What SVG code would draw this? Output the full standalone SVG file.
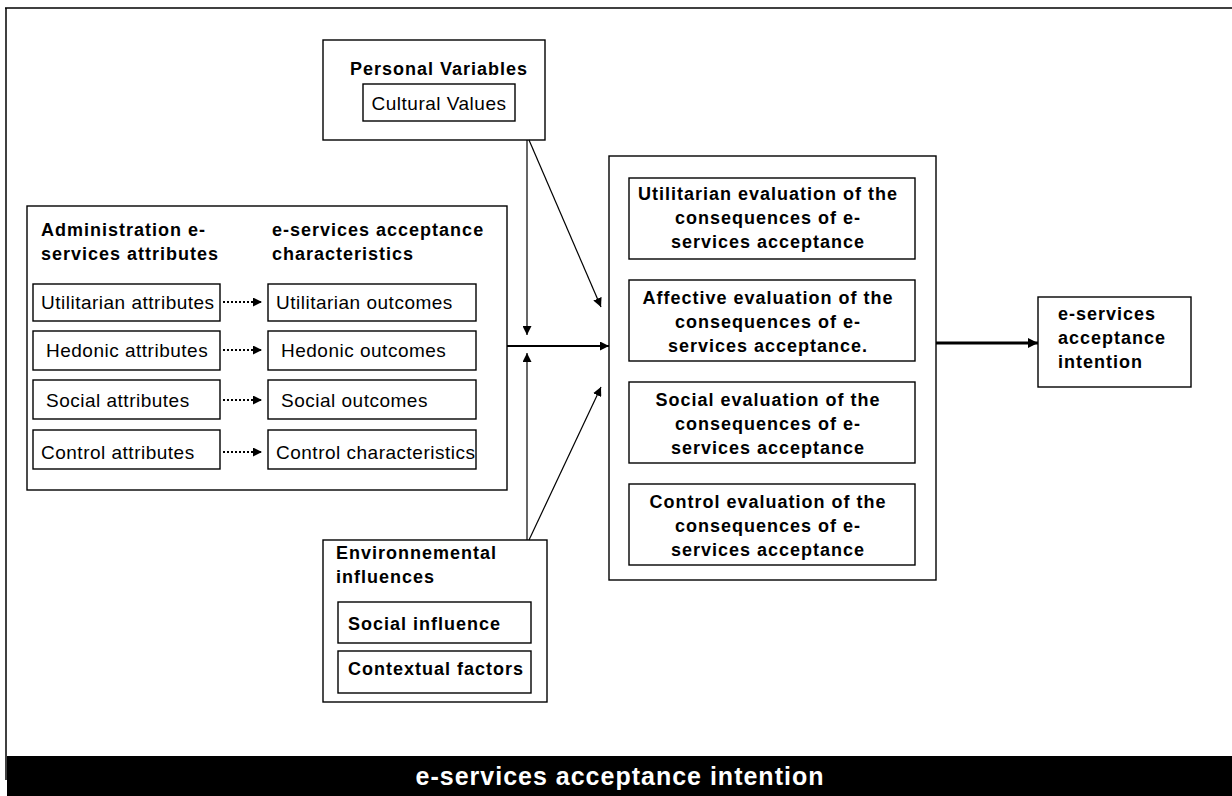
<svg xmlns="http://www.w3.org/2000/svg" width="1232" height="796" viewBox="0 0 1232 796">
<style>
.box{fill:#fff;stroke:#000;stroke-width:1.4}
.bt{font-family:"Liberation Sans",Arial,sans-serif;font-weight:bold;font-size:18px;letter-spacing:1px;fill:#000}
.rt{font-family:"Liberation Sans",Arial,sans-serif;font-size:19px;letter-spacing:0.5px;fill:#000}
.c{text-anchor:middle}
.ln{stroke:#000;stroke-width:1.2;fill:none}
.dot{stroke:#000;stroke-width:2;stroke-dasharray:2 2;fill:none}
</style>
<defs>
<marker id="ah" viewBox="0 0 10 10" refX="10" refY="5" markerWidth="9" markerHeight="9" markerUnits="userSpaceOnUse" orient="auto">
<path d="M0,0 L10,5 L0,10 z" fill="#000"/>
</marker>
<marker id="ah2" viewBox="0 0 10 10" refX="10" refY="5" markerWidth="10" markerHeight="10" markerUnits="userSpaceOnUse" orient="auto">
<path d="M0,0 L10,5 L0,10 z" fill="#000"/>
</marker>
</defs>
<rect width="1232" height="796" fill="#fff"/>
<g id="frame">
<line x1="5" y1="8" x2="1232" y2="8" stroke="#000" stroke-width="1.5"/>
<line x1="6" y1="8" x2="6" y2="780" stroke="#000" stroke-width="1.5"/>
</g>
<g id="personal">
<rect class="box" x="323" y="40" width="222" height="100"/>
<text class="bt c" x="439" y="75">Personal Variables</text>
<rect class="box" x="363" y="84" width="152" height="37"/>
<text class="rt c" x="439" y="110">Cultural Values</text>
</g>
<g id="admin">
<rect class="box" x="27" y="206" width="480" height="284" stroke-width="1.8"/>
<text class="bt" x="41" y="236">Administration e-</text>
<text class="bt" x="41" y="260">services attributes</text>
<text class="bt" x="272" y="236">e-services acceptance</text>
<text class="bt" x="272" y="260">characteristics</text>
</g>
<g id="util-attr"><rect class="box" x="33" y="284" width="187" height="37"/><text class="rt" x="41" y="309">Utilitarian attributes</text></g>
<g id="hed-attr"><rect class="box" x="33" y="331" width="187" height="39"/><text class="rt" x="46" y="357">Hedonic attributes</text></g>
<g id="soc-attr"><rect class="box" x="33" y="380" width="187" height="39"/><text class="rt" x="46" y="407">Social attributes</text></g>
<g id="ctl-attr"><rect class="box" x="33" y="430" width="187" height="39"/><text class="rt" x="41" y="459">Control attributes</text></g>
<g id="util-out"><rect class="box" x="268" y="284" width="208" height="37"/><text class="rt" x="276" y="309">Utilitarian outcomes</text></g>
<g id="hed-out"><rect class="box" x="268" y="331" width="208" height="39"/><text class="rt" x="281" y="357">Hedonic outcomes</text></g>
<g id="soc-out"><rect class="box" x="268" y="380" width="208" height="39"/><text class="rt" x="281" y="407">Social outcomes</text></g>
<g id="ctl-out"><rect class="box" x="268" y="430" width="208" height="39"/><text class="rt" x="276" y="459">Control characteristics</text></g>
<g id="env">
<rect class="box" x="323" y="540" width="224" height="162"/>
<text class="bt" x="336" y="559">Environnemental</text>
<text class="bt" x="336" y="583">influences</text>
<rect class="box" x="338" y="602" width="193" height="41"/>
<text class="bt" x="348" y="630">Social influence</text>
<rect class="box" x="338" y="651" width="193" height="42"/>
<text class="bt" x="348" y="675">Contextual factors</text>
</g>
<g id="evaluation">
<rect class="box" x="609" y="156" width="327" height="424"/>
</g>
<g id="eval-util">
<rect class="box" x="629" y="178" width="286" height="81"/>
<text class="bt c" x="768" y="200">Utilitarian evaluation of the</text>
<text class="bt c" x="768" y="224">consequences of e-</text>
<text class="bt c" x="768" y="248">services acceptance</text>
</g>
<g id="eval-aff">
<rect class="box" x="629" y="280" width="286" height="81"/>
<text class="bt c" x="768" y="304">Affective evaluation of the</text>
<text class="bt c" x="768" y="328">consequences of e-</text>
<text class="bt c" x="768" y="352">services acceptance.</text>
</g>
<g id="eval-soc">
<rect class="box" x="629" y="382" width="286" height="81"/>
<text class="bt c" x="768" y="406">Social evaluation of the</text>
<text class="bt c" x="768" y="430">consequences of e-</text>
<text class="bt c" x="768" y="454">services acceptance</text>
</g>
<g id="eval-ctl">
<rect class="box" x="629" y="484" width="286" height="81"/>
<text class="bt c" x="768" y="508">Control evaluation of the</text>
<text class="bt c" x="768" y="532">consequences of e-</text>
<text class="bt c" x="768" y="556">services acceptance</text>
</g>
<g id="intention">
<rect class="box" x="1038" y="297" width="153" height="90"/>
<text class="bt" x="1058" y="320">e-services</text>
<text class="bt" x="1058" y="344">acceptance</text>
<text class="bt" x="1058" y="368">intention</text>
</g>
<g id="connectors">
<line class="dot" x1="223" y1="302" x2="262" y2="302" marker-end="url(#ah)"/>
<line class="dot" x1="223" y1="350" x2="262" y2="350" marker-end="url(#ah)"/>
<line class="dot" x1="223" y1="400" x2="262" y2="400" marker-end="url(#ah)"/>
<line class="dot" x1="223" y1="452" x2="262" y2="452" marker-end="url(#ah)"/>
<line class="ln" x1="527" y1="140" x2="527" y2="335" marker-end="url(#ah)"/>
<line class="ln" x1="527" y1="540" x2="527" y2="353" marker-end="url(#ah)"/>
<line class="ln" x1="529" y1="140" x2="601" y2="307" marker-end="url(#ah)"/>
<line class="ln" x1="529" y1="540" x2="601" y2="387" marker-end="url(#ah)"/>
<line x1="507" y1="346" x2="609" y2="346" stroke="#000" stroke-width="2" marker-end="url(#ah)"/>
<line x1="936" y1="343" x2="1038" y2="343" stroke="#000" stroke-width="2.8" marker-end="url(#ah2)"/>
</g>
<g id="banner">
<rect x="7" y="756" width="1225" height="40" fill="#000"/>
<text x="620" y="785" text-anchor="middle" font-family="'Liberation Sans',Arial,sans-serif" font-weight="bold" font-size="25" letter-spacing="1" fill="#fff">e-services acceptance intention</text>
</g>
</svg>
